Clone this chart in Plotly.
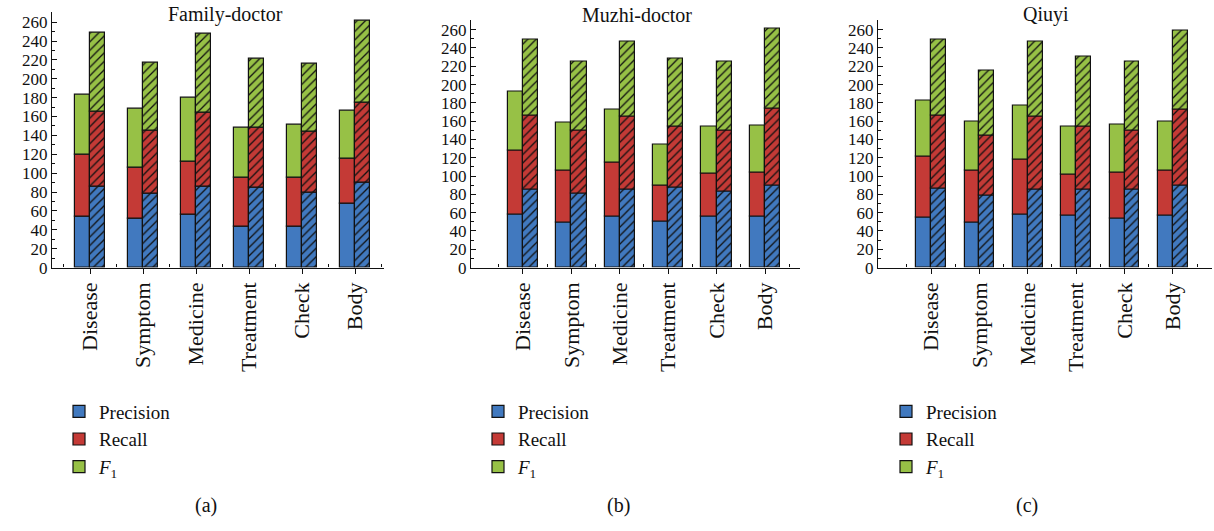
import plotly.graph_objects as go

W, H = 1214, 531

categories = ["Disease", "Symptom", "Medicine", "Treatment", "Check", "Body"]
y_ticks = list(range(0, 261, 20))

# Family-doctor: plain bars (left) and hatched bars (right), per metric
fd_plain_p = [54.0, 51.2, 56.4, 43.3, 42.9, 67.5]
fd_plain_r = [65.5, 54.4, 55.4, 51.9, 52.3, 47.8]
fd_plain_f = [64.0, 63.0, 67.9, 53.3, 56.5, 50.6]
fd_hatch_p = [85.5, 77.9, 85.5, 84.5, 79.3, 89.7]
fd_hatch_r = [80.0, 66.8, 79.0, 64.0, 64.7, 84.5]
fd_hatch_f = [83.1, 72.1, 82.7, 72.4, 72.1, 86.9]

# Muzhi-doctor
mz_plain_p = [57.5, 48.9, 55.4, 50.7, 55.4, 56.1]
mz_plain_r = [70.7, 57.2, 59.6, 39.3, 47.8, 47.8]
mz_plain_f = [63.6, 52.8, 57.5, 44.6, 51.4, 51.1]
mz_hatch_p = [85.7, 80.4, 85.7, 87.5, 82.5, 89.3]
mz_hatch_r = [80.0, 69.2, 79.3, 66.1, 67.5, 84.6]
mz_hatch_f = [82.9, 75.0, 82.1, 75.3, 74.6, 86.8]

# Qiuyi
qy_plain_p = [54.2, 49.6, 57.4, 57.1, 53.9, 56.7]
qy_plain_r = [67.4, 56.3, 60.6, 44.5, 49.5, 49.6]
qy_plain_f = [60.6, 53.2, 58.9, 52.5, 53.2, 52.8]
qy_hatch_p = [85.9, 78.1, 85.6, 85.6, 84.9, 89.2]
qy_hatch_r = [80.6, 65.6, 79.2, 68.5, 65.2, 83.4]
qy_hatch_f = [83.1, 72.1, 82.7, 76.3, 74.9, 86.3]

BLUE = "#4179BF"
RED = "#C43A36"
GREEN = "#97C146"
EDGE = "#111111"
FONT = "Liberation Serif, Times New Roman, serif"

metric_names = ["Precision", "Recall", "<i>F</i><sub>1</sub>"]
metric_colors = [BLUE, RED, GREEN]

panels = [
    dict(title="Family-doctor", tag="(a)",
         plain=[fd_plain_p, fd_plain_r, fd_plain_f],
         hatch=[fd_hatch_p, fd_hatch_r, fd_hatch_f],
         xpx=(52, 384), ytop=12, xrange=(-0.717, 5.547), width=0.285,
         title_x=225, tag_x=206, legend_x=59),
    dict(title="Muzhi-doctor", tag="(b)",
         plain=[mz_plain_p, mz_plain_r, mz_plain_f],
         hatch=[mz_hatch_p, mz_hatch_r, mz_hatch_f],
         xpx=(471, 800), ytop=20, xrange=(-1.074, 5.723), width=0.315,
         title_x=637, tag_x=618, legend_x=478),
    dict(title="Qiuyi", tag="(c)",
         plain=[qy_plain_p, qy_plain_r, qy_plain_f],
         hatch=[qy_hatch_p, qy_hatch_r, qy_hatch_f],
         xpx=(878, 1212), ytop=20, xrange=(-1.095, 5.806), width=0.305,
         title_x=1046, tag_x=1027, legend_x=886),
]

AXIS_BOTTOM = 272.7
positions = list(range(len(categories)))

fig = go.Figure()
annotations = []

for k, pn in enumerate(panels):
    sfx = "" if k == 0 else str(k + 1)
    xa, ya = "x" + sfx, "y" + sfx
    legend_id = "legend" + sfx
    w = pn["width"]

    for group, offset, hatched in ((pn["plain"], -w, False), (pn["hatch"], 0.0, True)):
        base = [0.0] * len(categories)
        for m, values in enumerate(group):
            marker = dict(color=metric_colors[m], line=dict(color=EDGE, width=1.2))
            if hatched:
                marker["pattern"] = dict(shape="/", fgcolor=EDGE, bgcolor=metric_colors[m],
                                         size=6, solidity=0.22, fillmode="replace")
            fig.add_trace(go.Bar(
                x=positions, y=values, base=list(base), width=w, offset=offset,
                marker=marker, name=metric_names[m],
                showlegend=not hatched, legend=legend_id,
                xaxis=xa, yaxis=ya, hoverinfo="skip",
            ))
            base = [b + v for b, v in zip(base, values)]

    x0, x1 = pn["xpx"]
    xdom = [x0 / W, x1 / W]
    ydom = [1 - AXIS_BOTTOM / H, 1 - pn["ytop"] / H]

    fig.update_layout(**{
        "xaxis" + sfx: dict(
            domain=xdom, range=list(pn["xrange"]), anchor=ya,
            tickmode="array", tickvals=positions, ticktext=categories,
            tickangle=-90, ticks="outside", ticklen=5, tickwidth=1.2, tickcolor=EDGE,
            showline=True, linecolor=EDGE, linewidth=1.2, showgrid=False, zeroline=False,
            tickfont=dict(family=FONT, size=22, color="#111111"),
            minor=dict(ticks="inside", ticklen=3, tickwidth=1, tickcolor=EDGE,
                       tickmode="linear", tick0=0.5, dtick=1, showgrid=False),
            fixedrange=True,
        ),
        "yaxis" + sfx: dict(
            domain=ydom, range=[0, 271], anchor=xa,
            tickmode="array", tickvals=y_ticks,
            ticks="inside", ticklen=5, tickwidth=1.2, tickcolor=EDGE,
            showline=True, linecolor=EDGE, linewidth=1.2, showgrid=False, zeroline=False,
            tickfont=dict(family=FONT, size=17, color="#111111"),
            minor=dict(ticks="inside", ticklen=3, tickwidth=1, tickcolor=EDGE,
                       tickmode="linear", tick0=0, dtick=10, showgrid=False),
            fixedrange=True,
        ),
        legend_id: dict(
            x=pn["legend_x"] / W, y=1 - 400 / H, xanchor="left", yanchor="top",
            font=dict(family=FONT, size=19, color="#111111"),
            bgcolor="rgba(0,0,0,0)", traceorder="normal", itemwidth=30,
            tracegroupgap=0,
        ),
    })

    annotations.append(dict(
        text=pn["title"], x=pn["title_x"] / W, y=1 - 15 / H, xref="paper", yref="paper",
        xanchor="center", yanchor="middle", showarrow=False,
        font=dict(family=FONT, size=20, color="#111111"),
    ))
    annotations.append(dict(
        text=pn["tag"], x=pn["tag_x"] / W, y=1 - 515 / H, xref="paper", yref="paper",
        xanchor="center", yanchor="middle", showarrow=False,
        font=dict(family=FONT, size=20, color="#111111"),
    ))

fig.update_layout(
    width=W, height=H,
    margin=dict(l=0, r=0, t=0, b=0),
    paper_bgcolor="white", plot_bgcolor="white",
    barmode="overlay", bargap=0,
    annotations=annotations,
    font=dict(family=FONT, color="#111111"),
)

fig.write_html("out.html", config={"displayModeBar": False})
